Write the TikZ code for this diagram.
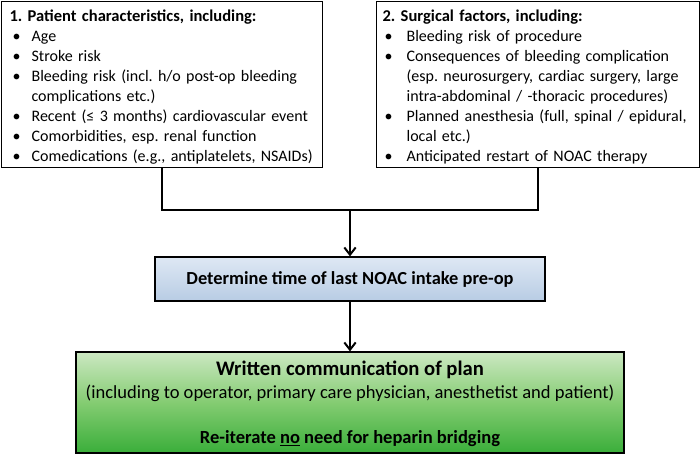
\documentclass[tikz,border=0pt]{standalone}
\usepackage{fontspec}
\setmainfont{Carlito}
\usetikzlibrary{arrows.meta}
\definecolor{bluetop}{RGB}{222,232,244}
\definecolor{bluebot}{RGB}{184,204,228}
\definecolor{greentop}{RGB}{204,232,194}
\definecolor{greenmid}{RGB}{132,204,114}
\definecolor{greenbot}{RGB}{58,174,58}
\newcommand{\bulA}{\makebox[16.5pt][l]{\hspace{2.25pt}\textbullet}}
\newcommand{\bulB}{\makebox[18pt][l]{\hspace{1.5pt}\textbullet}}
\newcommand{\ttl}[1]{{\fontsize{12.4}{15}\selectfont\bfseries #1}}
\begin{document}
\frenchspacing
\begin{tikzpicture}[x=0.75pt,y=-0.75pt,
  box/.style={draw=black,line width=0.9pt},
  listbox/.style={box,anchor=north west,align=left,inner xsep=6pt,
    font=\fontsize{12}{15}\selectfont,minimum height=124.5pt},
  conn/.style={line width=1.5pt},
  arr/.style={conn,-{Straight Barb[length=5.5pt,width=8.5pt,line width=1.5pt]}}]
\useasboundingbox (0,0) rectangle (700,454);

\node[listbox,text width=228.75pt] (pat) at (1,1)
 {\ttl{1. Patient characteristics, including:}\\
  \bulA Age\\
  \bulA Stroke risk\\
  \bulA Bleeding risk (incl. h/o post-op bleeding\\
  \hspace*{16.5pt}complications etc.)\\
  \bulA Recent (≤ 3 months) cardiovascular event\\
  \bulA Comorbidities, esp. renal function\\
  \bulA Comedications (e.g., antiplatelets, NSAIDs)\vspace{-3pt}};

\node[listbox,inner xsep=4.5pt,text width=233.25pt] (sur) at (376,1)
 {\ttl{2. Surgical factors, including:}\\
  \bulB Bleeding risk of procedure\\
  \bulB Consequences of bleeding complication\\
  \hspace*{18pt}(esp. neurosurgery, cardiac surgery, large\\
  \hspace*{18pt}intra-abdominal / -thoracic procedures)\\
  \bulB Planned anesthesia (full, spinal / epidural,\\
  \hspace*{18pt}local etc.)\\
  \bulB Anticipated restart of NOAC therapy\vspace{-3pt}};

\node[box,top color=bluetop,bottom color=bluebot,minimum width=292.5pt,
  minimum height=33pt,font=\fontsize{13.8}{16}\selectfont\bfseries] (det) at (350,279)
  {Determine time of last NOAC intake pre-op};

\node[box,top color=greentop,bottom color=greenbot,middle color=greenmid,
  minimum width=411pt,minimum height=75.75pt] (wri) at (350,402.5) {};
\node[anchor=base,inner sep=0pt,font=\fontsize{15.5}{17}\selectfont\bfseries] (w1) at (350,375)
  {Written communication of plan};
\node[anchor=base,inner sep=0pt,font=\fontsize{13.9}{16}\selectfont] (w2) at (350,398)
  {(including to operator, primary care physician, anesthetist and patient)};
\node[anchor=base,inner sep=0pt,font=\fontsize{13.9}{16}\selectfont\bfseries] (w3) at (350,443)
  {Re-iterate \underline{no} need for heparin bridging};

\coordinate (jm) at (350,210);
\draw[conn] (pat.south) |- (jm) -| (sur.south);
\draw[arr] (jm) -- (det.north);
\draw[arr] (det.south) -- (wri.north);
\end{tikzpicture}
\end{document}
